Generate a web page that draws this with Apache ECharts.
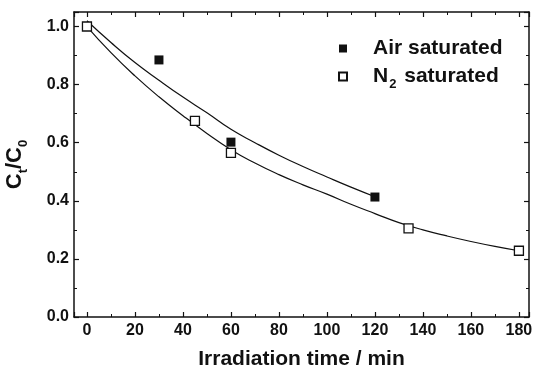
<!DOCTYPE html>
<html>
<head>
<meta charset="utf-8">
<script src="https://cdn.jsdelivr.net/npm/echarts@6/dist/echarts.min.js"></script>
<style>
  html, body { margin: 0; padding: 0; background: #fff; }
  #main { width: 533px; height: 371px; }
</style>
</head>
<body>
<div id="main"></div>
<script>
// measured points
const airTime = [0, 30, 60, 120]
const airValue = [1.0, 0.885, 0.602, 0.413]
const n2Time = [0, 45, 60, 134, 180]
const n2Value = [1.0, 0.675, 0.565, 0.305, 0.228]

// fitted curves
const airFitTime = [0, 10, 20, 30, 40, 50, 60, 70, 80, 90, 100, 110, 120]
const airFitValue = [1.02, 0.945, 0.876, 0.815, 0.757, 0.703, 0.646, 0.6, 0.557, 0.518, 0.482, 0.447, 0.414]
const n2FitTime = [0, 10, 20, 30, 40, 50, 60, 70, 80, 90, 100, 110, 120, 130, 140, 150, 160, 170, 180]
const n2FitValue = [1.0, 0.91, 0.83, 0.758, 0.693, 0.632, 0.576, 0.53, 0.49, 0.455, 0.423, 0.388, 0.356, 0.325, 0.3, 0.279, 0.26, 0.243, 0.228]

const pairs = (xs, ys) => xs.map((x, i) => [x, ys[i]])

const font = '"Liberation Sans", Arial, sans-serif'
const black = '#111'

const chart = echarts.init(document.getElementById('main'))

const frameAxis = {
  axisLine: { show: true, onZero: false, lineStyle: { color: black, width: 1.5 } },
  axisTick: { show: true, inside: true, length: 5, lineStyle: { color: black, width: 1.2 } },
  minorTick: { show: true, splitNumber: 2, length: 3, lineStyle: { color: black, width: 1 } },
  splitLine: { show: false }
}

chart.setOption({
  animation: false,
  textStyle: { fontFamily: font },
  grid: { left: 74, right: 4, top: 12, bottom: 54, containLabel: false, outerBoundsMode: 'none' },
  legend: {
    orient: 'vertical',
    left: 333,
    top: 33,
    itemWidth: 8,
    itemHeight: 8,
    itemGap: 7,
    data: ['Air saturated', 'N2 saturated'],
    formatter: name => name === 'N2 saturated' ? '{b|N}{s|2}{b| saturated}' : '{b|' + name + '}',
    textStyle: {
      padding: [0, 0, 0, 21],
      rich: {
        b: { fontSize: 21, fontWeight: 'bold', color: black, fontFamily: font, lineHeight: 28, verticalAlign: 'middle' },
        s: { fontSize: 13, fontWeight: 'bold', color: black, fontFamily: font, lineHeight: 11, verticalAlign: 'bottom', padding: [0, 2, 0, 1] }
      }
    }
  },
  xAxis: [
    Object.assign({
      type: 'value',
      min: -5.4,
      max: 184.2,
      splitNumber: 10,
      name: 'Irradiation time / min',
      nameLocation: 'middle',
      nameGap: 32,
      nameTextStyle: { fontSize: 21, fontWeight: 'bold', color: black, fontFamily: font },
      axisLabel: {
        showMinLabel: false, showMaxLabel: false, margin: 6,
        fontSize: 16, fontWeight: 'bold', color: black, fontFamily: font
      }
    }, frameAxis),
    Object.assign({
      type: 'value', position: 'top', min: -5.4, max: 184.2, splitNumber: 10,
      axisLabel: { show: false }
    }, frameAxis)
  ],
  yAxis: [
    Object.assign({
      type: 'value',
      min: 0,
      max: 1.05,
      interval: 0.2,
      name: '{m|C}{s|t}{m|/C}{s|0}',
      nameLocation: 'middle',
      nameGap: 44,
      nameRotate: 90,
      nameTextStyle: {
        rich: {
          m: { fontSize: 22, fontWeight: 'bold', color: black, fontFamily: font, lineHeight: 30, verticalAlign: 'middle' },
          s: { fontSize: 13, fontWeight: 'bold', color: black, fontFamily: font, lineHeight: 14, verticalAlign: 'bottom' }
        }
      },
      axisLabel: {
        showMaxLabel: false, margin: 5,
        fontSize: 16, fontWeight: 'bold', color: black, fontFamily: font,
        formatter: v => v.toFixed(1)
      }
    }, frameAxis),
    Object.assign({
      type: 'value', position: 'right', min: 0, max: 1.05, interval: 0.2,
      axisLabel: { show: false }
    }, frameAxis)
  ],
  series: [
    {
      name: 'air fit',
      type: 'line',
      smooth: true,
      showSymbol: false,
      data: pairs(airFitTime, airFitValue),
      lineStyle: { color: black, width: 1.2 },
      z: 2
    },
    {
      name: 'n2 fit',
      type: 'line',
      smooth: true,
      showSymbol: false,
      data: pairs(n2FitTime, n2FitValue),
      lineStyle: { color: black, width: 1.2 },
      z: 2
    },
    {
      name: 'Air saturated',
      type: 'scatter',
      symbol: 'rect',
      symbolSize: 9,
      data: pairs(airTime, airValue),
      itemStyle: { color: black, opacity: 1 },
      z: 3
    },
    {
      name: 'N2 saturated',
      type: 'scatter',
      symbol: 'rect',
      symbolSize: 9,
      data: pairs(n2Time, n2Value),
      itemStyle: { color: '#fff', borderColor: black, borderWidth: 1.3, opacity: 1 },
      z: 4
    }
  ]
})
</script>
</body>
</html>
